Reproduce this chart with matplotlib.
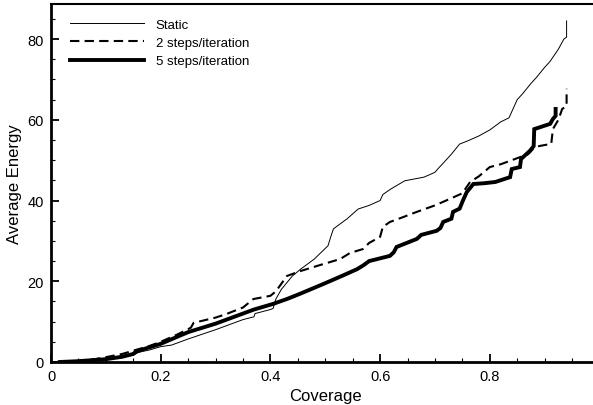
import matplotlib
matplotlib.use("Agg")
import matplotlib.pyplot as plt
from matplotlib.ticker import MultipleLocator

plt.rcParams['font.family'] = ['Liberation Sans', 'DejaVu Sans']

static_x = [0.02,0.05,0.08,0.10,0.13,0.15,0.16,0.18,0.20,0.22,0.25,0.30,0.35,0.37,0.372,0.40,0.405,0.41,0.42,0.44,0.455,0.48,0.505,0.51,0.515,0.54,0.56,0.58,0.60,0.605,0.62,0.64,0.645,0.68,0.70,0.705,0.72,0.73,0.745,0.76,0.78,0.80,0.82,0.835,0.85,0.86,0.875,0.885,0.90,0.91,0.925,0.935,0.94,0.94]
static_y = [0,0.2,0.5,0.8,1.3,1.7,2.4,3.0,3.8,4.2,5.7,8.0,10.5,11.2,12.0,13.0,13.3,15.6,18.0,21.3,23.0,25.5,28.8,31.0,33.0,35.5,37.9,38.8,40.0,41.5,42.9,44.5,44.9,45.8,47.0,47.8,50.0,51.5,54.0,54.8,56.0,57.5,59.5,60.5,65.0,66.5,69.0,70.5,73.0,74.5,77.5,80.0,80.5,84.5]

two_x = [0.02,0.05,0.08,0.10,0.13,0.15,0.18,0.20,0.23,0.255,0.26,0.30,0.32,0.35,0.369,0.40,0.41,0.43,0.454,0.49,0.527,0.545,0.569,0.58,0.60,0.605,0.618,0.64,0.667,0.70,0.727,0.75,0.764,0.78,0.80,0.82,0.86,0.87,0.879,0.89,0.91,0.912,0.915,0.925,0.932,0.94,0.94]
two_y = [0,0.3,0.7,1.2,2.0,2.8,4.0,5.0,6.8,8.5,9.7,11.0,11.9,13.5,15.6,16.4,17.5,21.3,22.5,24.0,25.5,27.0,28.0,29.5,31.0,33.5,34.7,35.8,37.2,38.8,40.4,41.8,44.6,46.0,48.3,49.0,51.0,51.5,52.8,53.5,54.0,54.0,57.7,60.0,62.7,63.4,67.7]

five_x = [0.016,0.05,0.08,0.10,0.13,0.15,0.155,0.20,0.25,0.30,0.37,0.405,0.43,0.454,0.496,0.53,0.558,0.57,0.58,0.618,0.625,0.63,0.667,0.675,0.703,0.71,0.715,0.73,0.733,0.745,0.751,0.758,0.77,0.79,0.81,0.837,0.84,0.855,0.857,0.873,0.88,0.881,0.91,0.915,0.92,0.92]
five_y = [0,0.2,0.5,0.7,1.3,2.0,2.6,4.5,7.4,9.5,13.0,14.4,15.6,16.9,19.3,21.3,23.0,24.0,25.0,26.3,27.2,28.5,30.5,31.5,32.5,33.2,34.7,35.5,37.2,38.0,40.0,42.1,44.1,44.3,44.6,45.8,47.8,48.3,50.3,52.3,53.5,57.7,59.0,60.2,61.0,62.7]

labels = ["Static", "2 steps/iteration", "5 steps/iteration"]

fig = plt.figure(figsize=(5.93, 4.06), dpi=100)
ax = fig.add_axes([51/593, 43/406, 548.5/593, 358/406])

ax.plot(static_x, static_y, color='black', lw=0.7, label=labels[0])
ax.plot(two_x, two_y, color='black', lw=1.5, dashes=(4.5, 2.5), label=labels[1])
ax.plot(five_x, five_y, color='black', lw=2.8, label=labels[2], solid_joinstyle='miter')

ax.set_xlim(0, 1.0)
ax.set_ylim(0, 88.7)
ax.xaxis.set_minor_locator(MultipleLocator(0.05))
ax.yaxis.set_minor_locator(MultipleLocator(5))
ax.set_xticks([0, 0.2, 0.4, 0.6, 0.8])
ax.set_xticklabels(["0", "0.2", "0.4", "0.6", "0.8"])
ax.set_yticks([0, 20, 40, 60, 80])
ax.set_yticklabels(["0", "20", "40", "60", "80"])

ax.tick_params(which='major', direction='in', length=6, width=1.3, labelsize=10.5, pad=5, top=False, right=False)
ax.tick_params(which='minor', direction='in', length=3, width=0.8, top=False, right=False)

ax.spines['left'].set_linewidth(2)
ax.spines['bottom'].set_linewidth(2)
ax.spines['top'].set_linewidth(1.5)
ax.spines['right'].set_visible(False)

ax.set_xlabel("Coverage", fontsize=12, labelpad=4)
ax.set_ylabel("Average Energy", fontsize=12, labelpad=4)

leg = ax.legend(loc='upper left', frameon=False, fontsize=9.5, handlelength=5.6,
                handletextpad=0.9, labelspacing=0.45, borderaxespad=0.3,
                bbox_to_anchor=(0.018, 0.985))

fig.savefig("out.png", dpi=100)
